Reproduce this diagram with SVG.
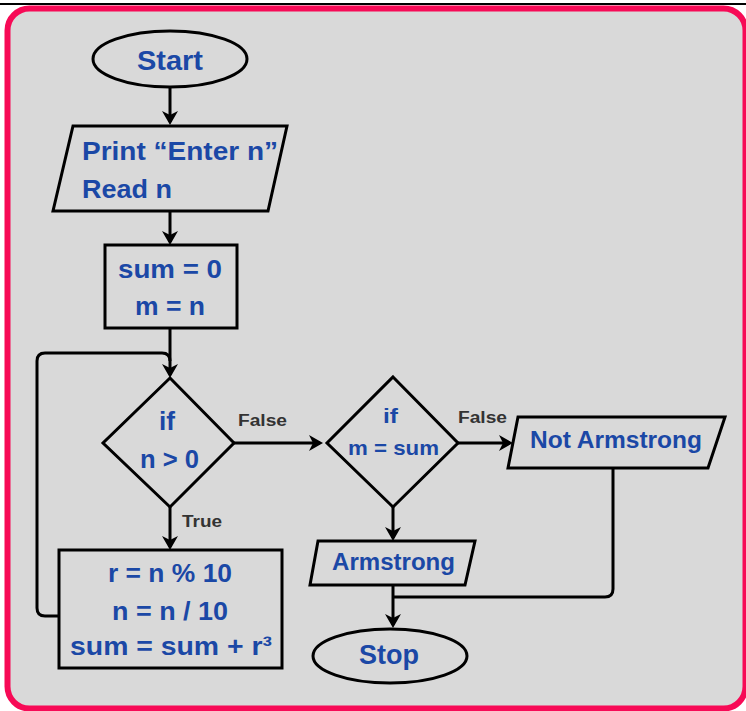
<svg xmlns="http://www.w3.org/2000/svg" width="746" height="711" viewBox="0 0 746 711">
<defs>
<marker id="arr" viewBox="0 0 14 16" refX="11" refY="8" markerWidth="14" markerHeight="16" markerUnits="userSpaceOnUse" orient="auto">
<path d="M0,0 L14,8 L0,16 L4,8 z" fill="#000"/>
</marker>
<style>
.shape{fill:none;stroke:#000;stroke-width:3;stroke-linejoin:miter}
.t{font-family:"Liberation Sans",Arial,sans-serif;font-weight:bold;fill:#1b48a6}
.lbl{font-family:"Liberation Sans",Arial,sans-serif;font-weight:bold;fill:#333;font-size:16px}
.c{fill:none;stroke:#000;stroke-width:3;marker-end:url(#arr)}
.cn{fill:none;stroke:#000;stroke-width:3}
</style>
</defs>
<rect x="0" y="0" width="746" height="711" fill="#fff"/>
<line x1="0" y1="4" x2="746" y2="4" stroke="#000" stroke-width="2"/>
<rect x="7.5" y="8.5" width="738" height="700" rx="22" fill="#d9d9d9" stroke="#f70a56" stroke-width="6"/>

<g id="connectors">
<path class="c" d="M170,87 V122"/>
<path class="c" d="M170,211 V242"/>
<path class="c" d="M170,328 V375"/>
<path class="cn" d="M59,616 H45 Q37,616 37,608 V361 Q37,353 45,353 H162 Q170,353 170,361"/>
<path class="c" d="M170,507 V547"/>
<path class="c" d="M234,443 H320"/>
<path class="c" d="M458,443 H510"/>
<path class="c" d="M393,507 V538"/>
<path class="c" d="M393,585 V625"/>
<path class="cn" d="M613,468 V589 Q613,597 605,597 H393"/>
<text class="lbl" x="238" y="426" textLength="49" lengthAdjust="spacingAndGlyphs">False</text>
<text class="lbl" x="182" y="527" textLength="40" lengthAdjust="spacingAndGlyphs">True</text>
<text class="lbl" x="458" y="423" textLength="49" lengthAdjust="spacingAndGlyphs">False</text>
</g>

<g id="start">
<ellipse class="shape" cx="170" cy="59" rx="77" ry="28"/>
<text class="t" x="137" y="70" font-size="27" textLength="66" lengthAdjust="spacingAndGlyphs">Start</text>
</g>

<g id="input">
<polygon class="shape" points="73,126 287,126 268,211 53,211"/>
<text class="t" x="82" y="160" font-size="25" textLength="196" lengthAdjust="spacingAndGlyphs">Print “Enter n”</text>
<text class="t" x="82" y="198" font-size="25" textLength="90" lengthAdjust="spacingAndGlyphs">Read n</text>
</g>

<g id="init">
<rect class="shape" x="105" y="245" width="132" height="83"/>
<text class="t" x="118" y="278" font-size="25" textLength="104" lengthAdjust="spacingAndGlyphs">sum = 0</text>
<text class="t" x="135" y="315" font-size="25" textLength="70" lengthAdjust="spacingAndGlyphs">m = n</text>
</g>

<g id="cond1">
<polygon class="shape" points="170,378 234,443 170,507 103,443"/>
<text class="t" x="159" y="430" font-size="25" textLength="16" lengthAdjust="spacingAndGlyphs">if</text>
<text class="t" x="140" y="468" font-size="25" textLength="59" lengthAdjust="spacingAndGlyphs">n &gt; 0</text>
</g>

<g id="body">
<rect class="shape" x="59" y="550" width="223" height="118"/>
<text class="t" x="108" y="582" font-size="25" textLength="124" lengthAdjust="spacingAndGlyphs">r = n % 10</text>
<text class="t" x="112" y="620" font-size="25" textLength="116" lengthAdjust="spacingAndGlyphs">n = n / 10</text>
<text class="t" x="70" y="655" font-size="25" textLength="202" lengthAdjust="spacingAndGlyphs">sum = sum + r³</text>
</g>

<g id="cond2">
<polygon class="shape" points="393,377 458,443 393,507 327,443"/>
<text class="t" x="383" y="423" font-size="21" textLength="15" lengthAdjust="spacingAndGlyphs">if</text>
<text class="t" x="348" y="455" font-size="21" textLength="91" lengthAdjust="spacingAndGlyphs">m = sum</text>
</g>

<g id="notarm">
<polygon class="shape" points="518,417 725,417 708,468 508,468"/>
<text class="t" x="530" y="448" font-size="23" textLength="172" lengthAdjust="spacingAndGlyphs">Not Armstrong</text>
</g>

<g id="arm">
<polygon class="shape" points="318,541 475,541 465,585 310,585"/>
<text class="t" x="332" y="570" font-size="23" textLength="123" lengthAdjust="spacingAndGlyphs">Armstrong</text>
</g>

<g id="stop">
<ellipse class="shape" cx="390" cy="656" rx="77" ry="27"/>
<text class="t" x="359" y="664" font-size="27" textLength="60" lengthAdjust="spacingAndGlyphs">Stop</text>
</g>
</svg>
